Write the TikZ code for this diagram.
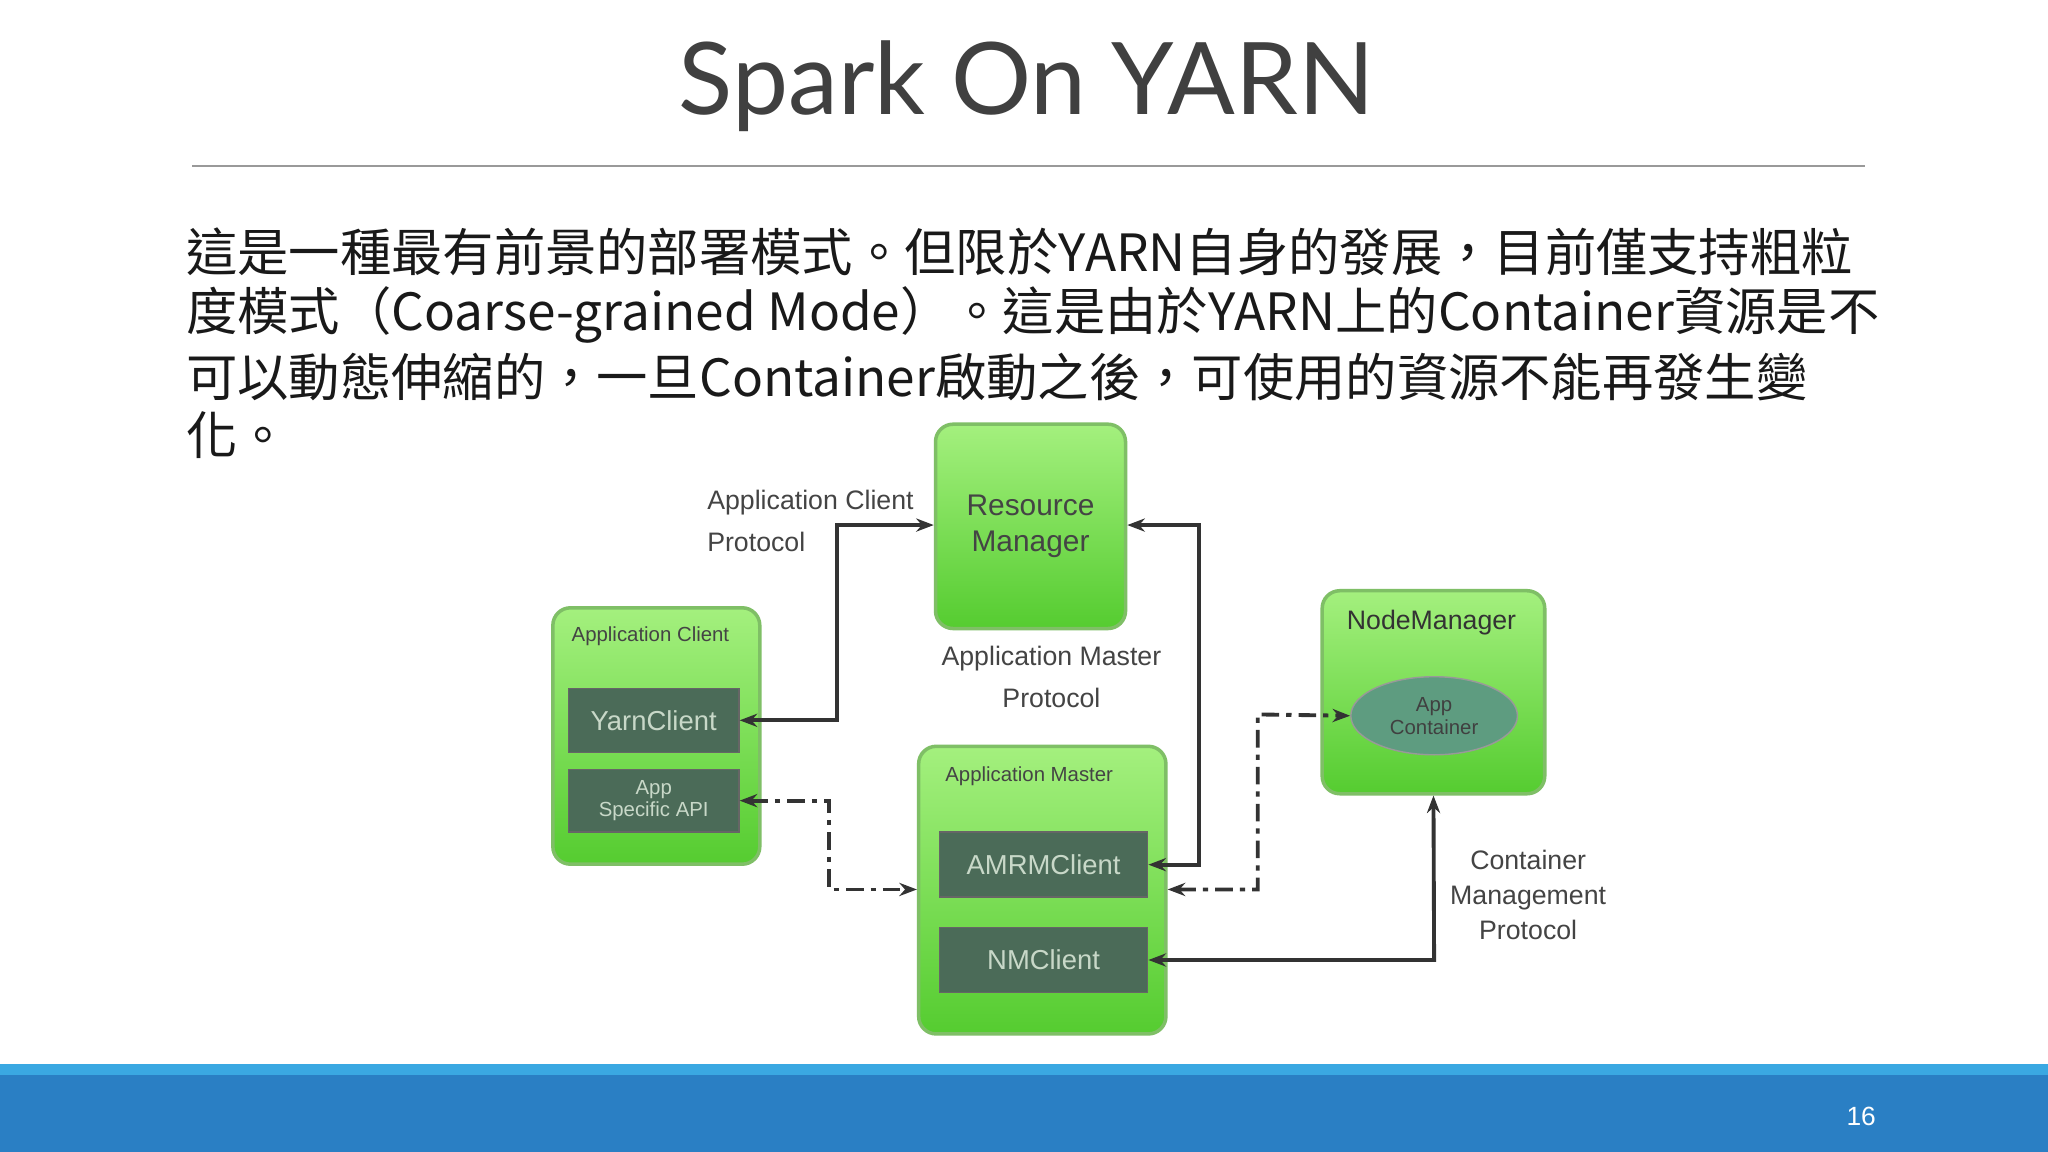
\documentclass[tikz,border=0pt]{standalone}
\usepackage{fontspec}
\setmainfont{Liberation Sans}
\newfontfamily\cjk{Noto Sans CJK TC}
\newfontfamily\ttl{Lato}
\usetikzlibrary{arrows.meta,shapes.geometric}
\definecolor{ttlgray}{HTML}{404040}
\definecolor{bandblue}{HTML}{2A7FC4}
\definecolor{bandlight}{HTML}{3AA8E2}
\definecolor{gtop}{HTML}{A4F07E}
\definecolor{gbot}{HTML}{55CC30}
\definecolor{gedge}{HTML}{7FBF66}
\definecolor{dark}{HTML}{4B6B58}
\definecolor{darktxt}{HTML}{C8D8C8}
\definecolor{ell}{HTML}{5E9C80}
\definecolor{lbl}{HTML}{444444}
\begin{document}
\begin{tikzpicture}[x=0.013061cm,y=-0.013061cm,
  sz/.style 2 args={minimum width=#1*0.3703pt,minimum height=#2*0.3703pt},
  gbox/.style={draw=gedge,line width=1pt,rounded corners=5pt,top color=gtop,bottom color=gbot,inner sep=0},
  dbox/.style={draw=black!60,fill=dark,inner sep=0,text=darktxt,font=\fontsize{7.5}{8}\selectfont},
  lab/.style={text=lbl,font=\fontsize{7.6}{10}\selectfont,align=center},
  conn/.style={line width=1.1pt,black!80,{Stealth[length=5pt]}-{Stealth[length=5pt]}},
  dconn/.style={conn,dash pattern=on 5pt off 2pt on 1.5pt off 2pt}]
\useasboundingbox (0,0) rectangle (1568,882);
\fill[white] (0,0) rectangle (1568,882);
% title
\node[text=ttlgray,font=\ttl\fontsize{28.5}{32}\selectfont] (title) at (786,66) {Spark On YARN};
\draw[black!40,line width=0.5pt] (147,127) -- (1428,127);
% body text
\begin{scope}[every node/.style={anchor=west,inner sep=0,font=\cjk\fontsize{14.6}{16}\selectfont,text=black!90}]
\node (t1) at (142,193) {這是一種最有前景的部署模式。但限於YARN自身的發展，目前僅支持粗粒};
\node (t2) at (142,241) {度模式（Coarse-grained Mode）。這是由於YARN上的Container資源是不};
\node (t3) at (142,289) {可以動態伸縮的，一旦Container啟動之後，可使用的資源不能再發生變};
\node (t4) at (142,333) {化。};
\end{scope}
% boxes
\node[gbox,sz={146}{157},lab,font=\fontsize{8.5}{10.5}\selectfont] (rm) at (789,403) {Resource\\Manager};
\node[gbox,sz={159}{197}] (ac) at (502.5,563.5) {};
\node[lab,font=\fontsize{5.8}{7}\selectfont] (acl) at (498,487) {Application Client};
\node[dbox,sz={131}{49},font=\fontsize{7.8}{9}\selectfont] (yc) at (500.5,551.5) {YarnClient};
\node[dbox,sz={131}{48},align=center,font=\fontsize{5.8}{6.5}\selectfont] (api) at (500.5,613) {App\\Specific API};
\node[gbox,sz={190}{221}] (am) at (798,681.5) {};
\node[lab,font=\fontsize{5.8}{7}\selectfont] (aml) at (788,594) {Application Master};
\node[dbox,sz={160}{50},font=\fontsize{7.8}{9}\selectfont] (amrm) at (799,662) {AMRMClient};
\node[dbox,sz={160}{50},font=\fontsize{7.8}{9}\selectfont] (nmc) at (799,735) {NMClient};
\node[gbox,sz={171}{156}] (nm) at (1097.5,530) {};
\node[lab,text=black!80] (nml) at (1096,477) {NodeManager};
\node[ellipse,draw=black!40,fill=ell,sz={128}{60},inner sep=0,align=center,text=black!75,font=\fontsize{5.8}{6.5}\selectfont] (ctr) at (1098,548) {App\\Container};
% labels
\node[lab,align=left,anchor=west] (l1) at (532,399) {Application Client\\[2pt]Protocol};
\node[lab] (l2) at (805,518) {Application Master\\[2pt]Protocol};
\node[lab] (l3) at (1170,685) {Container\\Management\\Protocol};
% connectors
\draw[conn] (yc.east) -- (641,551.5) -- (641,402) -- (rm.west |- 0,402);
\draw[conn] (amrm.east) -- (918,662) -- (918,402) -- (rm.east |- 0,402);
\draw[dconn] (api.east) -- (635,613) -- (635,681) -- (am.west |- 0,681);
\draw[dconn] (am.east |- 0,681) -- (963,681) -- (963,547) -- (ctr.west);
\draw[conn] (nmc.east) -- (1098,735) -- (nm.south);
% band
\fill[bandlight] (0,815) rectangle (1568,823);
\fill[bandblue] (0,823) rectangle (1568,882);
\node[text=white,font=\fontsize{7.5}{9}\selectfont] (pg) at (1425,855) {16};
\end{tikzpicture}
\end{document}
